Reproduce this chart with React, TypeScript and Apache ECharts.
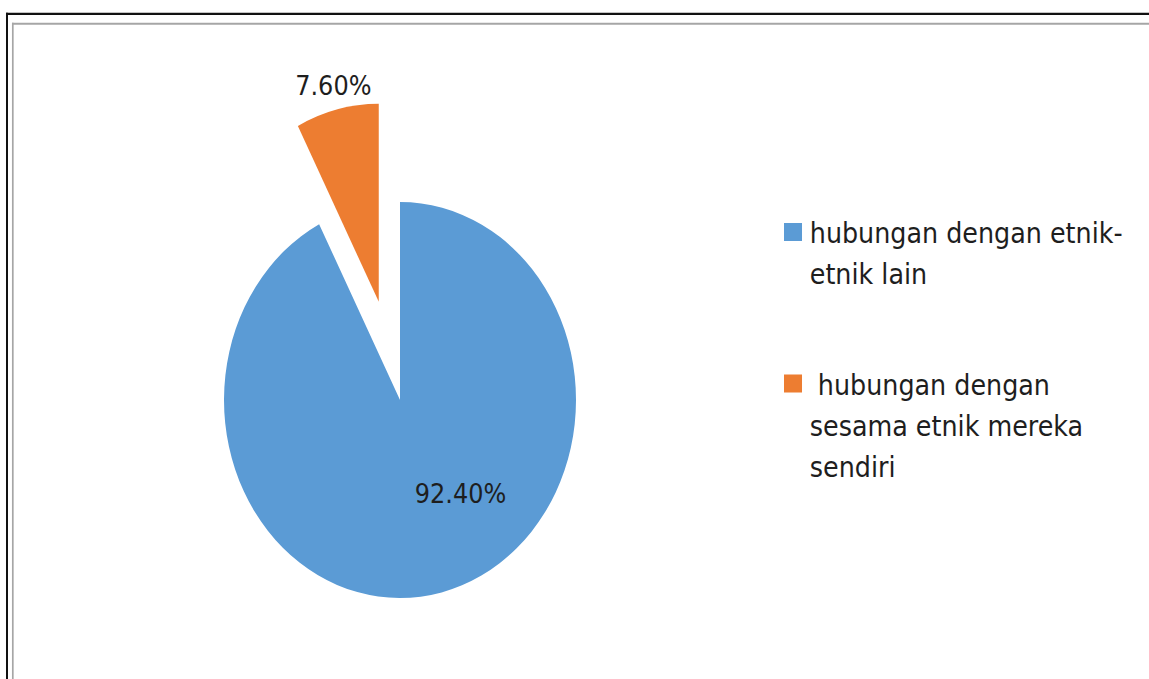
import React, { useEffect, useRef } from 'react';
import * as echarts from 'echarts';

const categories = ['hubungan dengan etnik-etnik lain', ' hubungan dengan sesama etnik mereka sendiri'];
const legendLines = [
  ['hubungan dengan etnik-', 'etnik lain'],
  [' hubungan dengan', 'sesama etnik mereka', 'sendiri'],
];
const values = [92.4, 7.6];
const colors = ['#5B9BD5', '#ED7D31'];

const SX = 0.8889; // horizontal squeeze of the reference picture
const VW = 1149;
const VH = 679;
const W = VW / SX;
const FONT = '"DejaVu Sans", sans-serif';
const TEXT = '#1e1e1e';
const LH = 41;
const legendTops = [212.5, 364.5];
const squareTops = [10.5, 10];
const labelShift = [
  { dx: 44, dy: -6 },
  { dx: -27, dy: -117 },
];

export default function App() {
  const ref = useRef<HTMLDivElement>(null);
  useEffect(() => {
    if (!ref.current) return;
    const chart = echarts.init(ref.current, undefined, { renderer: 'svg' });
    const legends = categories.map((name, i) => {
      const ih = legendLines[i].length * LH;
      const s0 = squareTops[i];
      return {
        data: [name],
        orient: 'vertical',
        left: 882,
        top: legendTops[i],
        padding: 0,
        itemWidth: 24,
        itemHeight: ih,
        icon: `path://M0,${s0}H20.25V${s0 + 18}H0Z M0,0H0.01V0.01H0Z M23.99,${ih - 0.01}H24V${ih}H23.99Z`,
        selectedMode: false,
        formatter: () => legendLines[i].join('\n'),
        textStyle: { fontFamily: FONT, fontSize: 28.6, lineHeight: LH, color: TEXT },
      };
    });
    chart.setOption({
      animation: false,
      legend: legends,
      graphic: [
        { type: 'line', silent: true, shape: { x1: 6 / SX, y1: 13.8, x2: W, y2: 13.8 }, style: { stroke: '#111', lineWidth: 2.3 } },
        { type: 'line', silent: true, shape: { x1: 7 / SX, y1: 12.7, x2: 7 / SX, y2: VH }, style: { stroke: '#111', lineWidth: 2 / SX } },
        { type: 'line', silent: true, shape: { x1: 12 / SX, y1: 23.7, x2: W, y2: 23.7 }, style: { stroke: '#a6a6a6', lineWidth: 2 } },
        { type: 'line', silent: true, shape: { x1: 12.8 / SX, y1: 22.7, x2: 12.8 / SX, y2: VH }, style: { stroke: '#a6a6a6', lineWidth: 1.7 / SX } },
      ],
      series: [
        {
          type: 'pie',
          center: [450, 400],
          radius: 198,
          startAngle: 90,
          clockwise: true,
          selectedMode: 'single',
          selectedOffset: 101,
          avoidLabelOverlap: false,
          label: {
            show: true,
            position: 'inside',
            formatter: (p: any) => Number(p.value).toFixed(2) + '%',
            fontFamily: FONT,
            fontSize: 27,
            color: TEXT,
          },
          labelLine: { show: false },
          labelLayout: (p: any) => labelShift[p.dataIndex],
          emphasis: { disabled: true },
          itemStyle: { borderWidth: 0 },
          data: categories.map((name, i) => ({
            name,
            value: values[i],
            selected: i === 1,
            itemStyle: { color: colors[i] },
          })),
        },
      ],
    });
    return () => chart.dispose();
  }, []);
  return (
    <div style={{ position: 'fixed', left: 0, top: 0, width: VW, height: VH, overflow: 'hidden', background: '#fff' }}>
      <div
        ref={ref}
        style={{ width: W, height: VH, transform: `scaleX(${SX})`, transformOrigin: '0 0' }}
      />
    </div>
  );
}
